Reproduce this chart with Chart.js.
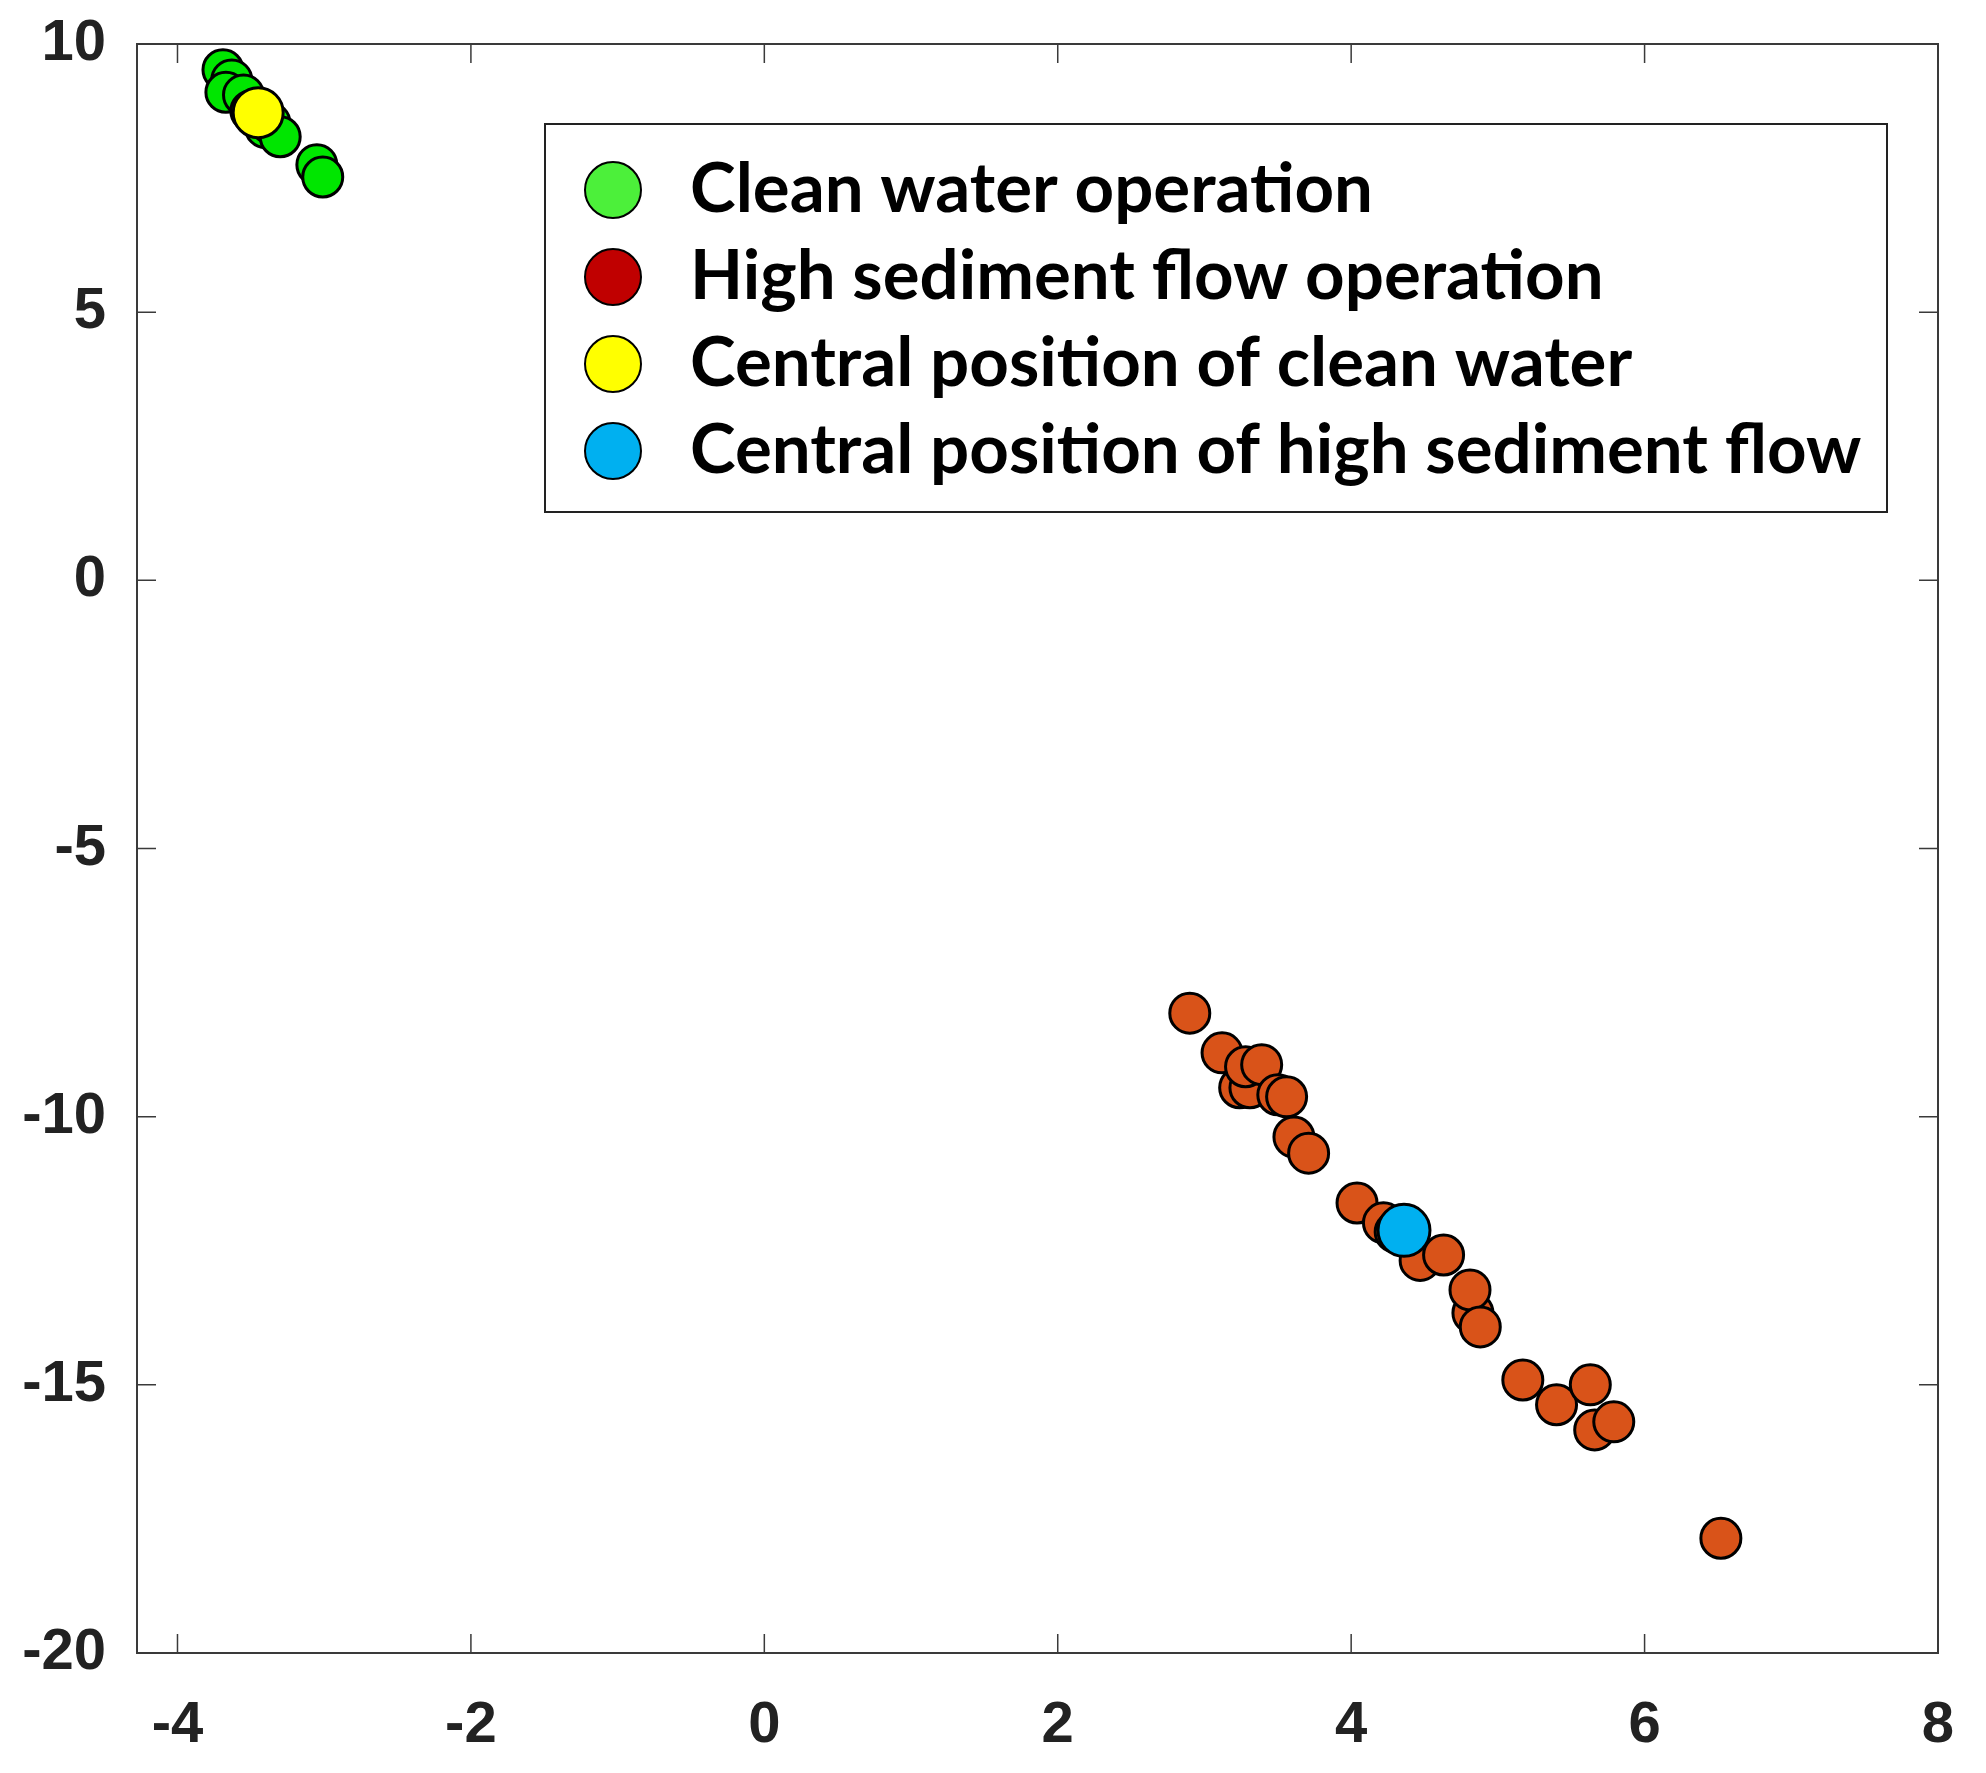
<!DOCTYPE html>
<html>
<head>
<meta charset="utf-8">
<script src="https://cdn.jsdelivr.net/npm/chart.js@4.4.1/dist/chart.umd.min.js"></script>
<style>
  html, body { margin: 0; padding: 0; background: #fff; }
  #wrap { width: 1986px; height: 1773px; }
</style>
</head>
<body>
<div id="wrap"><canvas id="scatterChart"></canvas></div>
<script>
// tick labels
const xTicks = [-4, -2, 0, 2, 4, 6, 8];
const yTicks = [-20, -15, -10, -5, 0, 5, 10];

// clean water operation
const cleanX = [-3.69, -3.63, -3.67, -3.55, -3.50, -3.40, -3.37, -3.30, -3.05, -3.01];
const cleanY = [9.52, 9.33, 9.10, 9.05, 8.75, 8.44, 8.53, 8.27, 7.75, 7.52];

// high sediment flow operation
const sedimentX = [2.90, 3.12, 3.24, 3.31, 3.28, 3.39, 3.50, 3.56, 3.61, 3.71, 4.04, 4.22, 4.30,
                   4.47, 4.63, 4.83, 4.81, 4.88, 5.17, 5.40, 5.63, 5.66, 5.79, 6.52];
const sedimentY = [-8.07, -8.81, -9.46, -9.46, -9.07, -9.03, -9.59, -9.63, -10.38, -10.68, -11.61, -11.98, -12.15,
                   -12.68, -12.58, -13.66, -13.23, -13.92, -14.91, -15.37, -15.00, -15.84, -15.69, -17.86];

// centroids
const cleanCenter = [-3.45, 8.72];
const sedimentCenter = [4.36, -12.12];

const legendLabels = ['Clean water operation', 'High sediment flow operation',
                      'Central position of clean water', 'Central position of high sediment flow'];
const legendColors = ['#4cf03a', '#c00000', '#ffff00', '#00b0f0'];

const toPoints = (xs, ys) => xs.map((x, i) => ({ x: x, y: ys[i] }));

// box frame with inward ticks on all four sides
const framePlugin = {
  id: 'frame',
  afterDatasetsDraw(chart) {
    const { ctx, chartArea: a, scales } = chart;
    const len = 19;
    ctx.save();
    ctx.strokeStyle = '#3a3a3a';
    ctx.lineWidth = 2;
    ctx.strokeRect(a.left, a.top, a.right - a.left, a.bottom - a.top);
    ctx.lineWidth = 1.5;
    ctx.beginPath();
    xTicks.forEach(v => {
      const px = scales.x.getPixelForValue(v);
      ctx.moveTo(px, a.bottom); ctx.lineTo(px, a.bottom - len);
      ctx.moveTo(px, a.top); ctx.lineTo(px, a.top + len);
    });
    yTicks.forEach(v => {
      const py = scales.y.getPixelForValue(v);
      ctx.moveTo(a.left, py); ctx.lineTo(a.left + len, py);
      ctx.moveTo(a.right, py); ctx.lineTo(a.right - len, py);
    });
    ctx.stroke();
    ctx.restore();
  }
};

// boxed legend inside the plot
const boxLegendPlugin = {
  id: 'boxLegend',
  afterDraw(chart) {
    const { ctx } = chart;
    const box = { left: 545, top: 124, right: 1887, bottom: 512 };
    ctx.save();
    ctx.fillStyle = '#fff';
    ctx.fillRect(box.left, box.top, box.right - box.left, box.bottom - box.top);
    ctx.strokeStyle = '#222';
    ctx.lineWidth = 2;
    ctx.strokeRect(box.left, box.top, box.right - box.left, box.bottom - box.top);
    ctx.font = 'bold 69px Lato';
    ctx.textBaseline = 'middle';
    legendLabels.forEach((label, i) => {
      const cy = 190 + i * 87;
      ctx.beginPath();
      ctx.arc(613, cy, 28, 0, Math.PI * 2);
      ctx.fillStyle = legendColors[i];
      ctx.fill();
      ctx.lineWidth = 2;
      ctx.strokeStyle = '#000';
      ctx.stroke();
      ctx.fillStyle = '#000';
      ctx.fillText(label, 690, cy);
    });
    ctx.restore();
  }
};

const tickFont = { family: 'Liberation Sans', size: 58, weight: 'bold' };

const ctx = document.getElementById('scatterChart').getContext('2d');
new Chart(ctx, {
  type: 'scatter',
  data: {
    datasets: [
      {
        label: 'Central position of clean water',
        data: [{ x: cleanCenter[0], y: cleanCenter[1] }],
        backgroundColor: '#ffff00',
        borderColor: '#000',
        borderWidth: 3,
        pointRadius: 25,
        order: 0
      },
      {
        label: 'Central position of high sediment flow',
        data: [{ x: sedimentCenter[0], y: sedimentCenter[1] }],
        backgroundColor: '#00b0f0',
        borderColor: '#000',
        borderWidth: 3,
        pointRadius: 26,
        order: 0
      },
      {
        label: 'Clean water operation',
        data: toPoints(cleanX, cleanY),
        backgroundColor: '#00e600',
        borderColor: '#000',
        borderWidth: 3,
        pointRadius: 20,
        order: 1
      },
      {
        label: 'High sediment flow operation',
        data: toPoints(sedimentX, sedimentY),
        backgroundColor: '#d95319',
        borderColor: '#000',
        borderWidth: 3,
        pointRadius: 20,
        order: 1
      }
    ]
  },
  options: {
    responsive: true,
    maintainAspectRatio: false,
    animation: false,
    layout: { padding: { top: 44, right: 48, left: 0, bottom: 0 } },
    plugins: {
      legend: { display: false },
      tooltip: { enabled: false }
    },
    scales: {
      x: {
        type: 'linear',
        min: -4.276,
        max: 8,
        afterBuildTicks(scale) { scale.ticks = xTicks.map(v => ({ value: v })); },
        afterFit(scale) { scale.height = 120; scale.paddingLeft = 0; scale.paddingRight = 0; },
        grid: { display: false },
        border: { display: false },
        ticks: { font: tickFont, color: '#222', padding: 30, maxRotation: 0 }
      },
      y: {
        type: 'linear',
        min: -20,
        max: 10,
        afterBuildTicks(scale) { scale.ticks = yTicks.map(v => ({ value: v })); },
        afterFit(scale) { scale.width = 137; scale.paddingTop = 0; scale.paddingBottom = 0; },
        grid: { display: false },
        border: { display: false },
        ticks: { font: tickFont, color: '#222', padding: 23 }
      }
    }
  },
  plugins: [framePlugin, boxLegendPlugin]
});
</script>
</body>
</html>
